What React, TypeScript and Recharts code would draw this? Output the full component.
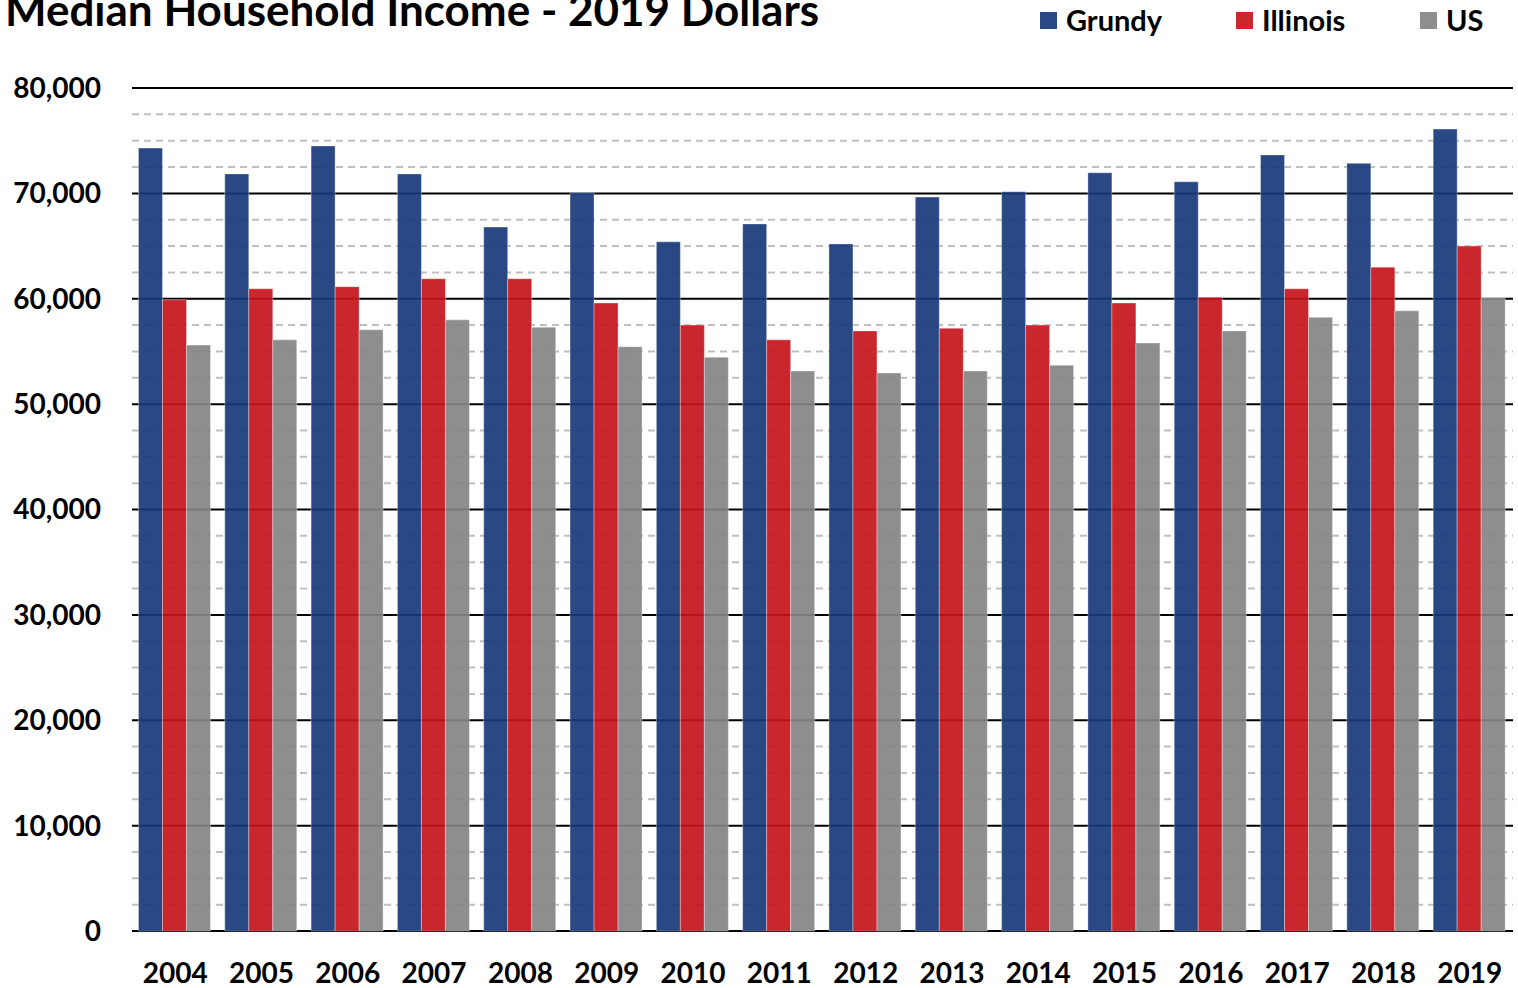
import { BarChart, Bar, XAxis, YAxis, CartesianGrid } from "recharts";

const years = ["2004", "2005", "2006", "2007", "2008", "2009", "2010", "2011", "2012", "2013", "2014", "2015", "2016", "2017", "2018", "2019"];
const grundy = [74300, 71850, 74500, 71850, 66800, 70050, 65400, 67100, 65200, 69650, 70150, 71950, 71100, 73650, 72850, 76100];
const illinois = [59900, 60950, 61150, 61900, 61900, 59600, 57500, 56100, 56950, 57200, 57500, 59600, 60150, 60950, 63000, 65000];
const us = [55600, 56100, 57050, 58000, 57300, 55450, 54450, 53150, 52950, 53150, 53700, 55800, 56950, 58250, 58850, 60050];

// every 2,500; labels shown only on the 10,000 steps
const yTicks = [0, 2500, 5000, 7500, 10000, 12500, 15000, 17500, 20000, 22500, 25000, 27500, 30000, 32500, 35000, 37500,
  40000, 42500, 45000, 47500, 50000, 52500, 55000, 57500, 60000, 62500, 65000, 67500, 70000, 72500, 75000, 77500, 80000];

const series = [
  { key: "grundy", name: "Grundy", color: "#17387a" },
  { key: "illinois", name: "Illinois", color: "#c4141b" },
  { key: "us", name: "US", color: "#848484" },
];

const data = years.map((y, i) => ({ year: y, grundy: grundy[i], illinois: illinois[i], us: us[i] }));

const FONT = "Lato, 'Open Sans', sans-serif";
const tickStyle = { fontSize: 28, fontWeight: 700, fill: "#000", fontFamily: FONT };

const GridLine = (p: any) => {
  const major = p.index % 4 === 0;
  return (
    <line key={p.key} x1={p.x1} y1={p.y1} x2={p.x2} y2={p.y2}
      stroke={major ? "#000" : "#bfbfbf"} strokeWidth={2} strokeDasharray={major ? undefined : "7 5"} />
  );
};

export default function App() {
  return (
    <div style={{ position: "absolute", left: 0, top: 0, width: 1518, height: 988, background: "#fff", overflow: "hidden", fontFamily: FONT }}>
      <div style={{ position: "absolute", left: 5, top: -16, fontSize: 44, fontWeight: 700, whiteSpace: "nowrap", lineHeight: "50px" }}>
        Median Household Income - 2019 Dollars
      </div>
      {/* legend */}
      {series.map((s, i) => (
        <div key={s.key} style={{ position: "absolute", left: [1040, 1236, 1420][i], top: 3, display: "flex", alignItems: "center", height: 34 }}>
          <div style={{ width: 17, height: 17, background: s.color, opacity: 0.92, marginRight: 9 }} />
          <span style={{ fontSize: 29, fontWeight: 700, lineHeight: "34px" }}>{s.name}</span>
        </div>
      ))}
      <div style={{ position: "absolute", left: 0, top: 0 }}>
        <BarChart width={1518} height={988} data={data} margin={{ top: 88, right: 5, bottom: 0, left: 0 }}
          barCategoryGap="7.5%" barGap={0}>
          <CartesianGrid vertical={false} horizontal={GridLine} />
          <XAxis dataKey="year" height={57} axisLine={false} tickLine={false} tickSize={0} tickMargin={32} tick={tickStyle} interval={0} />
          <YAxis width={132} domain={[0, 80000]} ticks={yTicks} interval={0} axisLine={false} tickLine={false} tickSize={0} tickMargin={31}
            tick={tickStyle} tickFormatter={(v: number) => (v % 10000 === 0 ? v.toLocaleString("en-US") : "")} />
          {series.map(s => (
            <Bar key={s.key} dataKey={s.key} name={s.name} fill={s.color} fillOpacity={0.92}
              stroke="#ffffff" strokeOpacity={0.35} strokeWidth={1} isAnimationActive={false} />
          ))}
        </BarChart>
      </div>
    </div>
  );
}
